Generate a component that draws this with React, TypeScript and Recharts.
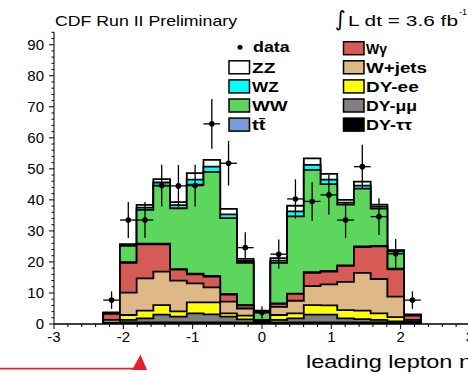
import React from 'react';
import { ComposedChart, Area, Scatter, ErrorBar, XAxis, YAxis } from 'recharts';

// 19 bins in leading lepton eta
const binEdges = [
  -2.29, -2.049, -1.808, -1.567, -1.326, -1.085, -0.844, -0.603, -0.362, -0.121,
  0.121, 0.362, 0.603, 0.844, 1.085, 1.326, 1.567, 1.808, 2.049, 2.29,
];

// per-bin expected contributions (not cumulative), stack order bottom -> top
const dyTauTau = [0.15, 0.5, 0.5, 0.5, 0.5, 0.5, 0.5, 0.5, 0.4, 0.3, 0.4, 0.5, 0.5, 0.5, 0.5, 0.5, 0.5, 0.4, 0.2];
const dyMuMu = [0.1, 0.8, 1.3, 2.5, 1.9, 2.9, 2.6, 1.9, 1.1, 0.3, 0.9, 1.3, 2.5, 2.5, 1.3, 1.1, 0.8, 0.4, 0.2];
const dyEE = [0.15, 1.6, 2.5, 3.1, 1.7, 3.6, 3.9, 1.0, 1.2, 0.3, 1.6, 1.6, 3.1, 3.0, 2.7, 2.7, 2.1, 1.4, 0.4];
const wJets = [0.9, 7.2, 10.4, 10.8, 9.9, 6.1, 4.8, 3.8, 2.3, 0.2, 2.6, 4.1, 6.1, 6.8, 9.1, 12.2, 11.1, 6.6, 0.5];
const wGamma = [2.0, 9.6, 11.0, 8.8, 3.5, 2.9, 3.5, 2.3, 1.0, 0.2, 1.0, 2.2, 4.3, 4.1, 5.1, 8.3, 10.5, 8.8, 1.4];
const ttbar = [0.05, 0.2, 0.2, 0.2, 0.2, 0.2, 0.2, 0.1, 0.1, 0.05, 0.1, 0.1, 0.2, 0.2, 0.2, 0.2, 0.2, 0.2, 0.05];
const ww = [0.1, 5.3, 10.9, 18.7, 19.6, 28.7, 33.5, 24.5, 13.6, 2.35, 13.1, 24.9, 33.0, 28.0, 19.6, 18.6, 12.0, 5.6, 0.1];
const wz = [0.1, 0.2, 0.7, 1.0, 1.0, 1.6, 1.7, 1.2, 0.6, 0.3, 0.7, 1.6, 1.6, 1.4, 0.6, 1.0, 0.6, 0.2, 0.1];
const zz = [0.15, 0.3, 0.9, 1.1, 1.0, 2.1, 2.2, 1.8, 0.7, 0.3, 0.8, 1.8, 2.1, 1.9, 0.9, 1.3, 0.7, 0.2, 0.15];

// observed data
const dataCounts = [7.7, 33.5, 33.5, 44.6, 44.5, 44.6, 64.5, 51.8, 24.6, 3.7, 22.5, 40.3, 39.5, 41.6, 33.5, 50.7, 34.6, 22.6, 7.7];
const dataErrors = [2.8, 5.8, 5.8, 6.7, 6.7, 6.7, 8.0, 7.2, 5.0, 1.9, 4.7, 6.3, 6.3, 6.4, 5.8, 7.1, 5.9, 4.8, 2.8];

// axis tick labels
const xMajorTicks = [-3, -2, -1, 0, 1, 2, 3];
const yMajorTicks = [0, 10, 20, 30, 40, 50, 60, 70, 80, 90];

const stackSeries = [
  { key: 'tautau', name: 'DY-\u03c4\u03c4', color: '#000000', values: dyTauTau },
  { key: 'mumu', name: 'DY-\u03bc\u03bc', color: '#808080', values: dyMuMu },
  { key: 'ee', name: 'DY-ee', color: '#ffff00', values: dyEE },
  { key: 'wjets', name: 'W+jets', color: '#dfb887', values: wJets },
  { key: 'wgamma', name: 'W\u03b3', color: '#d65a55', values: wGamma },
  { key: 'tt', name: 't t\u0304', color: '#7b9bd6', values: ttbar },
  { key: 'ww', name: 'WW', color: '#5cd65c', values: ww },
  { key: 'wz', name: 'WZ', color: '#00ffff', values: wz },
  { key: 'zz', name: 'ZZ', color: '#ffffff', values: zz },
];

// build step table with cumulative sums
const nBins = dataCounts.length;
const cumulative: number[][] = [];
stackSeries.forEach((s, si) => {
  cumulative.push(s.values.map((v, b) => v + (si > 0 ? cumulative[si - 1][b] : 0)));
});
const rowFor = (x: number, bin: number | null) => {
  const r: any = { x };
  stackSeries.forEach((s, si) => {
    r['c_' + s.key] = bin === null ? 0 : cumulative[si][bin];
  });
  return r;
};
const areaRows: any[] = [rowFor(binEdges[0], null)];
for (let b = 0; b < nBins; b++) areaRows.push(rowFor(binEdges[b], b));
areaRows.push(rowFor(binEdges[nBins], nBins - 1));
areaRows.push(rowFor(binEdges[nBins], null));

const points = dataCounts.map((c, b) => ({
  x: (binEdges[b] + binEdges[b + 1]) / 2,
  y: c,
  ex: (binEdges[b + 1] - binEdges[b]) / 2,
  ey: dataErrors[b],
}));

const xTicks: number[] = [];
for (let i = 0; i <= 30; i++) xTicks.push(Math.round((-3 + 0.2 * i) * 10) / 10);
const yTicks: number[] = [];
for (let v = 0; v <= 94; v += 2) yTicks.push(v);

const FONT = '"Liberation Sans", Arial, Helvetica, sans-serif';

const renderXTick = (props: any) => {
  const { x, y, payload } = props;
  const v = payload.value as number;
  const major = xMajorTicks.some((t) => Math.abs(t - v) < 1e-6);
  return (
    <g>
      <line x1={x} x2={x} y1={y} y2={y + (major ? 5 : 3)} stroke="#000" strokeWidth={1} />
      {major && (
        <text x={x} y={y + 18} textAnchor="middle" fontSize={15} fontFamily={FONT} fill="#000">
          {String(Math.round(v))}
        </text>
      )}
    </g>
  );
};

const renderYTick = (props: any) => {
  const { x, y, payload } = props;
  const v = payload.value as number;
  const major = yMajorTicks.includes(v);
  return (
    <g>
      <line x1={x - (major ? 5 : 2.5)} x2={x} y1={y} y2={y} stroke="#000" strokeWidth={1} />
      {major && (
        <text x={x - 10} y={y + 5} textAnchor="end" fontSize={15} fontFamily={FONT} fill="#000">
          {String(v)}
        </text>
      )}
    </g>
  );
};

const legendCol1 = [
  { name: 'ZZ', color: '#ffffff', w: 23.3 },
  { name: 'WZ', color: '#00ffff', w: 26.7 },
  { name: 'WW', color: '#5cd65c', w: 35.7 },
  { name: 'tt\u0304', color: '#7b9bd6', w: 13.3 },
];
const legendCol2 = [
  { name: 'W\u03b3', color: '#d65a55', w: 21 },
  { name: 'W+jets', color: '#dfb887', w: 61 },
  { name: 'DY-ee', color: '#ffff00', w: 52.7 },
  { name: 'DY-\u03bc\u03bc', color: '#808080', w: 51 },
  { name: 'DY-\u03c4\u03c4', color: '#000000', w: 46 },
];

export default function App() {
  const drawOrder = [...stackSeries].reverse();
  return (
    <div style={{ position: 'fixed', left: 0, top: 0, width: 468, height: 375, overflow: 'hidden', background: '#fff' }}>
      <ComposedChart
        width={480}
        height={375}
        data={areaRows}
        margin={{ top: 32, right: 10, bottom: 0, left: 0 }}
        style={{ fontFamily: FONT }}
      >
        <XAxis
          xAxisId="top"
          orientation="top"
          type="number"
          dataKey="x"
          domain={[-3, 3]}
          allowDataOverflow
          height={0}
          tick={false}
          tickLine={false}
          axisLine={{ stroke: '#333', strokeWidth: 1 }}
        />
        <XAxis
          type="number"
          dataKey="x"
          domain={[-3, 3]}
          allowDataOverflow
          ticks={xTicks}
          interval={0}
          height={51}
          tickLine={false}
          tickSize={0}
          tickMargin={0}
          tick={renderXTick}
          axisLine={{ stroke: '#000', strokeWidth: 1.6 }}
        />
        <YAxis
          type="number"
          domain={[0, 94.1]}
          allowDataOverflow
          ticks={yTicks}
          interval={0}
          width={54}
          tickLine={false}
          tickSize={0}
          tickMargin={0}
          tick={renderYTick}
          axisLine={{ stroke: '#222', strokeWidth: 1.2 }}
        />
        {drawOrder.map((s) => (
          <Area
            key={s.key}
            dataKey={'c_' + s.key}
            type="stepAfter"
            fill={s.color}
            fillOpacity={1}
            stroke="#000"
            strokeWidth={1.8}
            dot={false}
            activeDot={false}
            isAnimationActive={false}
          />
        ))}
        <Scatter
          data={points}
          dataKey="y"
          isAnimationActive={false}
          shape={(p: any) => <circle cx={p.cx} cy={p.cy} r={2.8} fill="#000" />}
        >
          <ErrorBar dataKey="ey" direction="y" width={0} stroke="#000" strokeWidth={1.3} />
          <ErrorBar dataKey="ex" direction="x" width={0} stroke="#000" strokeWidth={1.3} />
        </Scatter>
      </ComposedChart>
      <svg
        width={468}
        height={375}
        style={{ position: 'absolute', left: 0, top: 0, pointerEvents: 'none' }}
        fontFamily={FONT}
      >
        <text x={55} y={25.5} fontSize={14.5} textLength={182} lengthAdjust="spacingAndGlyphs" fill="#000">
          CDF Run II Preliminary
        </text>
        <text x={335} y={26} fontSize={21} fontFamily='"DejaVu Sans", sans-serif' fill="#000">
          {'\u222b'}
        </text>
        <text x={348} y={25.5} fontSize={14.5} textLength={110} lengthAdjust="spacingAndGlyphs" fill="#000">
          L dt = 3.6 fb
        </text>
        <text x={459} y={15} fontSize={9} fill="#000">
          -1
        </text>

        {/* legend */}
        <circle cx={240} cy={47.3} r={2.5} fill="#000" />
        <text x={253} y={52} fontSize={14} fontWeight="bold" textLength={36.7} lengthAdjust="spacingAndGlyphs" fill="#000">
          data
        </text>
        {legendCol1.map((e, i) => (
          <g key={e.name}>
            <rect x={229} y={60.8 + i * 19.1} width={20.5} height={13} fill={e.color} stroke="#000" strokeWidth={1.5} />
            <text x={252} y={72.8 + i * 19.1} fontSize={14} fontWeight="bold" textLength={e.w} lengthAdjust="spacingAndGlyphs" fill="#000">
              {e.name}
            </text>
          </g>
        ))}
        {legendCol2.map((e, i) => (
          <g key={e.name}>
            <rect x={343.5} y={41.7 + i * 19.1} width={20.5} height={13} fill={e.color} stroke="#000" strokeWidth={1.5} />
            <text x={366} y={53.7 + i * 19.1} fontSize={14} fontWeight="bold" textLength={e.w} lengthAdjust="spacingAndGlyphs" fill="#000">
              {e.name}
            </text>
          </g>
        ))}

        {/* axis title */}
        <text x={306} y={367.5} fontSize={17.5} textLength={166} lengthAdjust="spacingAndGlyphs" fill="#000">
          leading lepton {'\u03b7'}
        </text>

        {/* red arrow annotation */}
        <line x1={0} x2={136} y1={368.7} y2={368.7} stroke="#e8202c" strokeWidth={1.8} />
        <polygon points="132,370 147,370 140.5,354.5" fill="#e8202c" />
      </svg>
    </div>
  );
}
